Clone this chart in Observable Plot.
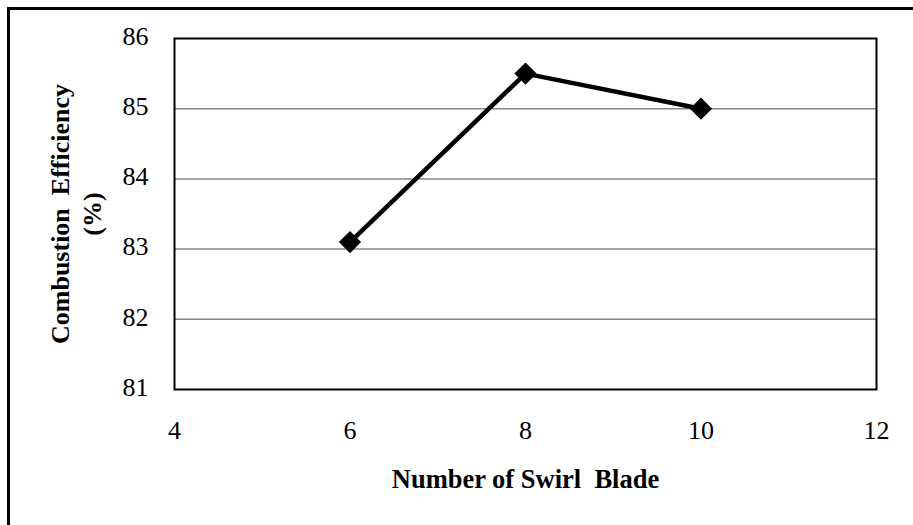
<!DOCTYPE html>
<html>
<head>
<meta charset="utf-8">
<script src="https://cdn.jsdelivr.net/npm/d3@7"></script>
<script src="https://cdn.jsdelivr.net/npm/@observablehq/plot@0.6"></script>
<style>
  html, body { margin: 0; padding: 0; background: #fff; }
  #wrap { position: relative; width: 913px; height: 525px; overflow: hidden; }
  #border { position: absolute; left: 7px; top: 7px; width: 2000px; height: 2000px;
            border-left: 3px solid #000; border-top: 3px solid #000; pointer-events: none; }
  #wrap svg { position: absolute; left: 0; top: 0; }
  #wrap svg text { font-family: 'Liberation Serif', 'Times New Roman', serif; font-variant-numeric: normal; }
</style>
</head>
<body>
<div id="wrap"><div id="border"></div></div>
<script>
const blades = [6, 8, 10];
const efficiency = [83.1, 85.5, 85.0];
const xTicks = [4, 6, 8, 10, 12];
const yTicks = [81, 82, 83, 84, 85, 86];
const xTitle = "Number of Swirl \u00A0Blade";
const yTitle = "Combustion \u00A0Efficiency\n(%)";

const data = blades.map((b, i) => ({blades: b, eff: efficiency[i]}));
const font = "'Liberation Serif', 'Times New Roman', serif";

const chart = Plot.plot({
  width: 913,
  height: 525,
  marginLeft: 174,
  marginRight: 37,
  marginTop: 38,
  marginBottom: 136,
  style: {fontFamily: font, background: "transparent", overflow: "visible"},
  x: {domain: [4, 12], ticks: xTicks},
  y: {domain: [81, 86], ticks: yTicks},
  marks: [
    Plot.ruleY(yTicks.slice(1, -1), {stroke: "#888", strokeWidth: 1.5}),
    Plot.frame({stroke: "#000", strokeWidth: 2}),
    Plot.axisX(xTicks, {tickSize: 0, tickPadding: 31, fontSize: 26, fontFamily: font, label: null, fill: "#000", tickFormat: d3.format("d")}),
    Plot.axisY(yTicks, {tickSize: 0, tickPadding: 26, fontSize: 26, fontFamily: font, label: null, fill: "#000", tickFormat: d3.format("d"), dy: -2}),
    Plot.line(data, {x: "blades", y: "eff", stroke: "#000", strokeWidth: 4.5}),
    Plot.dot(data, {x: "blades", y: "eff", symbol: "diamond2", r: 10, fill: "#000", stroke: "none"}),
    Plot.text([xTitle], {frameAnchor: "bottom", dy: 90, text: d => d, fontSize: 26.5, fontFamily: font, fontWeight: "bold", fill: "#000", lineAnchor: "middle", textAnchor: "middle"}),
    Plot.text([yTitle], {frameAnchor: "left", dx: -100, text: d => d, rotate: -90, fontSize: 26, fontFamily: font, fontWeight: "bold", fill: "#000", lineAnchor: "middle", textAnchor: "middle", lineHeight: 1.22})
  ]
});
document.getElementById("wrap").appendChild(chart);
</script>
</body>
</html>
